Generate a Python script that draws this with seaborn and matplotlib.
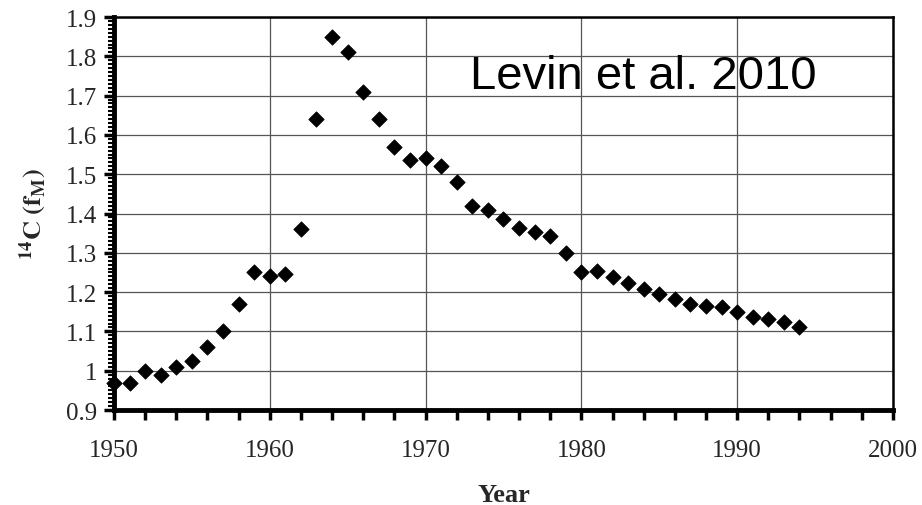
import numpy as np
import pandas as pd
import matplotlib
matplotlib.use("Agg")
import matplotlib.pyplot as plt
import seaborn as sns
from matplotlib.ticker import MultipleLocator, FuncFormatter

# Atmospheric 14C data
years = list(range(1950, 1995))
f_m = [0.97, 0.97, 1.00, 0.99, 1.01, 1.024, 1.06, 1.10, 1.17, 1.25,
       1.24, 1.245, 1.36, 1.64, 1.85, 1.81, 1.71, 1.64, 1.57, 1.535,
       1.54, 1.52, 1.48, 1.42, 1.41, 1.385, 1.363, 1.352, 1.342, 1.30,
       1.252, 1.255, 1.238, 1.223, 1.208, 1.195, 1.182, 1.17, 1.165, 1.161,
       1.149, 1.136, 1.132, 1.125, 1.112]

df = pd.DataFrame({"Year": years, "fM": f_m})

sns.set_style("white")
plt.rcParams["font.family"] = ["Liberation Serif", "DejaVu Serif"]
plt.rcParams["mathtext.fontset"] = "stix"

fig = plt.figure(figsize=(9.22, 5.06), dpi=100)
ax = fig.add_axes([0.1236, 0.1877, 0.8449, 0.7767])

sns.scatterplot(data=df, x="Year", y="fM", marker="D", s=62, color="black",
                edgecolor="black", linewidth=0.5, ax=ax, zorder=3, clip_on=False)

ax.set_xlim(1950, 2000)
ax.set_ylim(0.9, 1.9)
ax.xaxis.set_major_locator(MultipleLocator(10))
ax.xaxis.set_minor_locator(MultipleLocator(2))
ax.yaxis.set_major_locator(MultipleLocator(0.1))
ax.yaxis.set_minor_locator(MultipleLocator(0.01))
ax.yaxis.set_major_formatter(FuncFormatter(lambda v, p: "%g" % round(v, 2)))

ax.grid(True, which="major", color="#555555", linewidth=0.9)
ax.set_axisbelow(True)

for side in ["left", "bottom"]:
    ax.spines[side].set_linewidth(3.5)
    ax.spines[side].set_color("black")
for side in ["top", "right"]:
    ax.spines[side].set_linewidth(1.8)
    ax.spines[side].set_color("black")

ax.tick_params(axis="both", which="major", direction="out", length=7, width=2.5,
               labelsize=18, color="black", pad=5)
ax.tick_params(axis="x", which="minor", direction="out", length=7, width=2.5, color="black")
ax.tick_params(axis="y", which="minor", direction="out", length=4, width=1.5, color="black")
ax.tick_params(axis="x", which="major", pad=14)
ax.tick_params(left=True, bottom=True, which="both")

ax.set_xlabel("Year", fontsize=19, fontweight="bold", labelpad=16)
ax.set_ylabel(r"$\mathbf{^{14}C\ (f_M)}$", fontsize=19, labelpad=12)

ax.text(0.679, 0.851, "Levin et al. 2010", transform=ax.transAxes, ha="center", va="center",
        fontsize=34, family=["Liberation Sans", "DejaVu Sans"], color="black")

fig.savefig("out.png", dpi=100)
